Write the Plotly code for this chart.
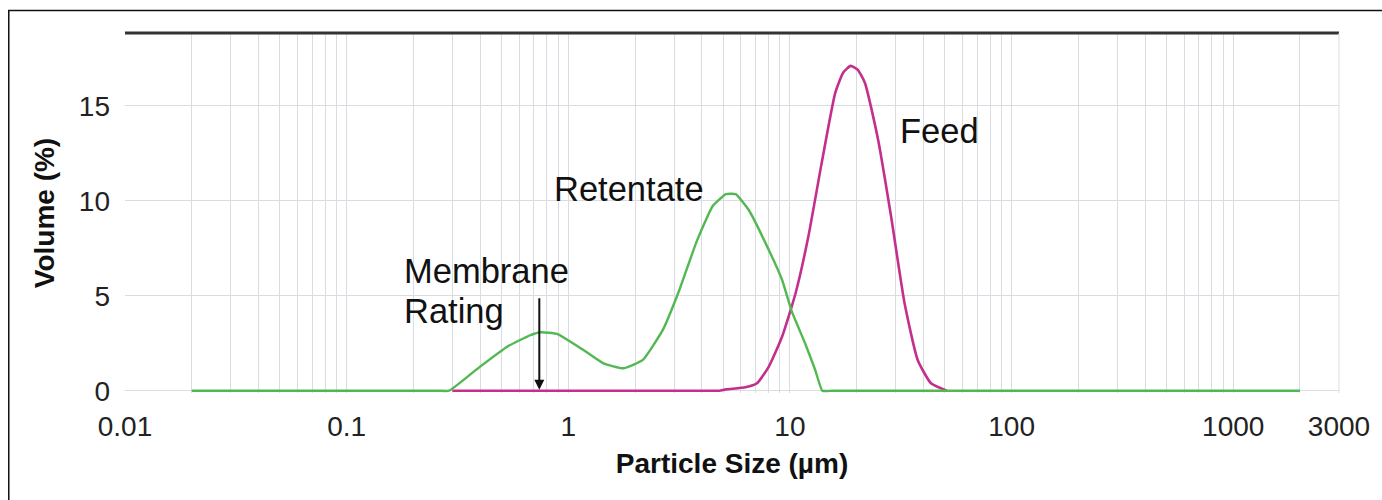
import numpy as np
import plotly.graph_objects as go

# ---------------- data ----------------
retentate_size = [0.02, 0.05, 0.1, 0.2, 0.26, 0.29, 0.40, 0.53, 0.675, 0.75, 0.89, 1.17, 1.44,
                  1.77, 2.17, 2.67, 3.17, 3.77, 4.47, 5.14, 5.69, 6.53, 7.76, 9.22, 10.2,
                  11.7, 13.0, 14.0, 15.5, 20, 50, 100, 300, 1000, 2000]
retentate_vol = [0.0, 0.0, 0.0, 0.0, 0.0, 0.0, 1.27, 2.32, 2.93, 3.08, 2.99, 2.14, 1.44,
                 1.18, 1.62, 3.2, 5.3, 7.77, 9.7, 10.35, 10.35, 9.5, 7.77, 5.83, 4.16,
                 2.5, 1.09, 0.0, 0.0, 0.0, 0.0, 0.0, 0.0, 0.0, 0.0]

feed_size = [0.30, 0.5, 1.0, 2.0, 3.0, 4.0, 4.8, 5.14, 6.3, 7.1, 8.03, 9.22, 10.6, 12.1, 13.9,
             16.0, 17.4, 18.8, 20.2, 21.8, 25.0, 28.6, 32.9, 37.7, 43.3, 51.0]
feed_vol = [0.0, 0.0, 0.0, 0.0, 0.0, 0.0, 0.0, 0.07, 0.18, 0.39, 1.27, 2.85, 5.13, 8.1, 11.98,
            15.67, 16.75, 17.1, 16.9, 16.2, 13.2, 9.17, 4.6, 1.62, 0.39, 0.0]

grid_vals = [m * 10.0 ** e for e in range(-2, 3) for m in range(1, 10)] + [1000, 2000, 3000]
label_map = {0.01: "0.01", 0.1: "0.1", 1: "1", 10: "10", 100: "100", 1000: "1000", 3000: "3000"}

y_ticks = [0, 5, 10, 15]
membrane_rating = 0.74

# ---------------- layout geometry ----------------
W, H = 1382, 500
L, R, T, B = 125, 35, 33, 107
pw, ph = W - L - R, H - T - B
Y_MIN, Y_MAX = -0.12, 18.83


def px2paper_x(px):
    return (px - L) / pw


def px2paper_y(py):
    return (H - B - py) / ph


FONT = "Liberation Sans, Arial, sans-serif"

fig = go.Figure()
fig.add_trace(go.Scatter(x=feed_size, y=feed_vol, mode="lines",
                         line=dict(color="#c42e8c", width=2.6, shape="spline", smoothing=0.5),
                         name="Feed", showlegend=False))
fig.add_trace(go.Scatter(x=retentate_size, y=retentate_vol, mode="lines",
                         line=dict(color="#52b852", width=2.4, shape="spline", smoothing=0.4),
                         name="Retentate", showlegend=False))

ticktext = []
for v in grid_vals:
    key = None
    for k in label_map:
        if abs(v - k) / k < 1e-6:
            key = k
    ticktext.append(label_map[key] if key is not None else "")

fig.update_xaxes(type="log", range=[np.log10(0.01), np.log10(3000)],
                 tickvals=grid_vals, ticktext=ticktext,
                 showgrid=True, gridcolor="#d9dde2", gridwidth=1,
                 zeroline=False, showline=False, ticks="",
                 ticklabelstandoff=14,
                 tickfont=dict(family=FONT, size=28, color="#222"),
                 title=dict(text="<b>Particle Size (µm)</b>", standoff=12,
                            font=dict(family=FONT, size=28, color="#111")))
fig.update_yaxes(range=[Y_MIN, Y_MAX], tickvals=y_ticks,
                 showgrid=True, gridcolor="#d9dde2", gridwidth=1,
                 zeroline=False, showline=False, ticks="",
                 ticklabelstandoff=14,
                 tickfont=dict(family=FONT, size=28, color="#222"),
                 title=dict(text="<b>Volume (%)</b>", standoff=16,
                            font=dict(family=FONT, size=28, color="#111")))

shapes = [
    # dark top border of plot area
    dict(type="line", xref="paper", yref="paper", x0=0, x1=1, y0=1, y1=1,
         line=dict(color="#333", width=3)),
    # right light border
    dict(type="line", xref="paper", yref="paper", x0=1, x1=1, y0=0, y1=1,
         line=dict(color="#d9dde2", width=1)),
    # outer frame
    dict(type="rect", xref="paper", yref="paper",
         x0=px2paper_x(8), x1=px2paper_x(1395), y0=px2paper_y(510), y1=px2paper_y(10.5),
         line=dict(color="#111", width=1.5)),
]

annotations = [
    dict(x=np.log10(membrane_rating), y=0.05, ax=np.log10(membrane_rating), ay=4.95,
         xref="x", yref="y", axref="x", ayref="y", text="", showarrow=True,
         arrowhead=2, arrowsize=1, arrowwidth=2, arrowcolor="#111"),
    dict(x=px2paper_x(404), y=px2paper_y(271), xref="paper", yref="paper", text="Membrane",
         showarrow=False, xanchor="left", yanchor="middle",
         font=dict(family=FONT, size=34.5, color="#111")),
    dict(x=px2paper_x(404), y=px2paper_y(311), xref="paper", yref="paper", text="Rating",
         showarrow=False, xanchor="left", yanchor="middle",
         font=dict(family=FONT, size=34.5, color="#111")),
    dict(x=px2paper_x(555), y=px2paper_y(189), xref="paper", yref="paper", text="Retentate",
         showarrow=False, xanchor="left", yanchor="middle",
         font=dict(family=FONT, size=34.5, color="#111")),
    dict(x=px2paper_x(903), y=px2paper_y(131), xref="paper", yref="paper", text="Feed",
         showarrow=False, xanchor="left", yanchor="middle",
         font=dict(family=FONT, size=34.5, color="#111")),
]

fig.update_layout(width=W, height=H, margin=dict(l=L, r=R, t=T, b=B, pad=0),
                  paper_bgcolor="white", plot_bgcolor="white",
                  shapes=shapes, annotations=annotations, showlegend=False)

fig.write_html("out.html", config={"displayModeBar": False})
